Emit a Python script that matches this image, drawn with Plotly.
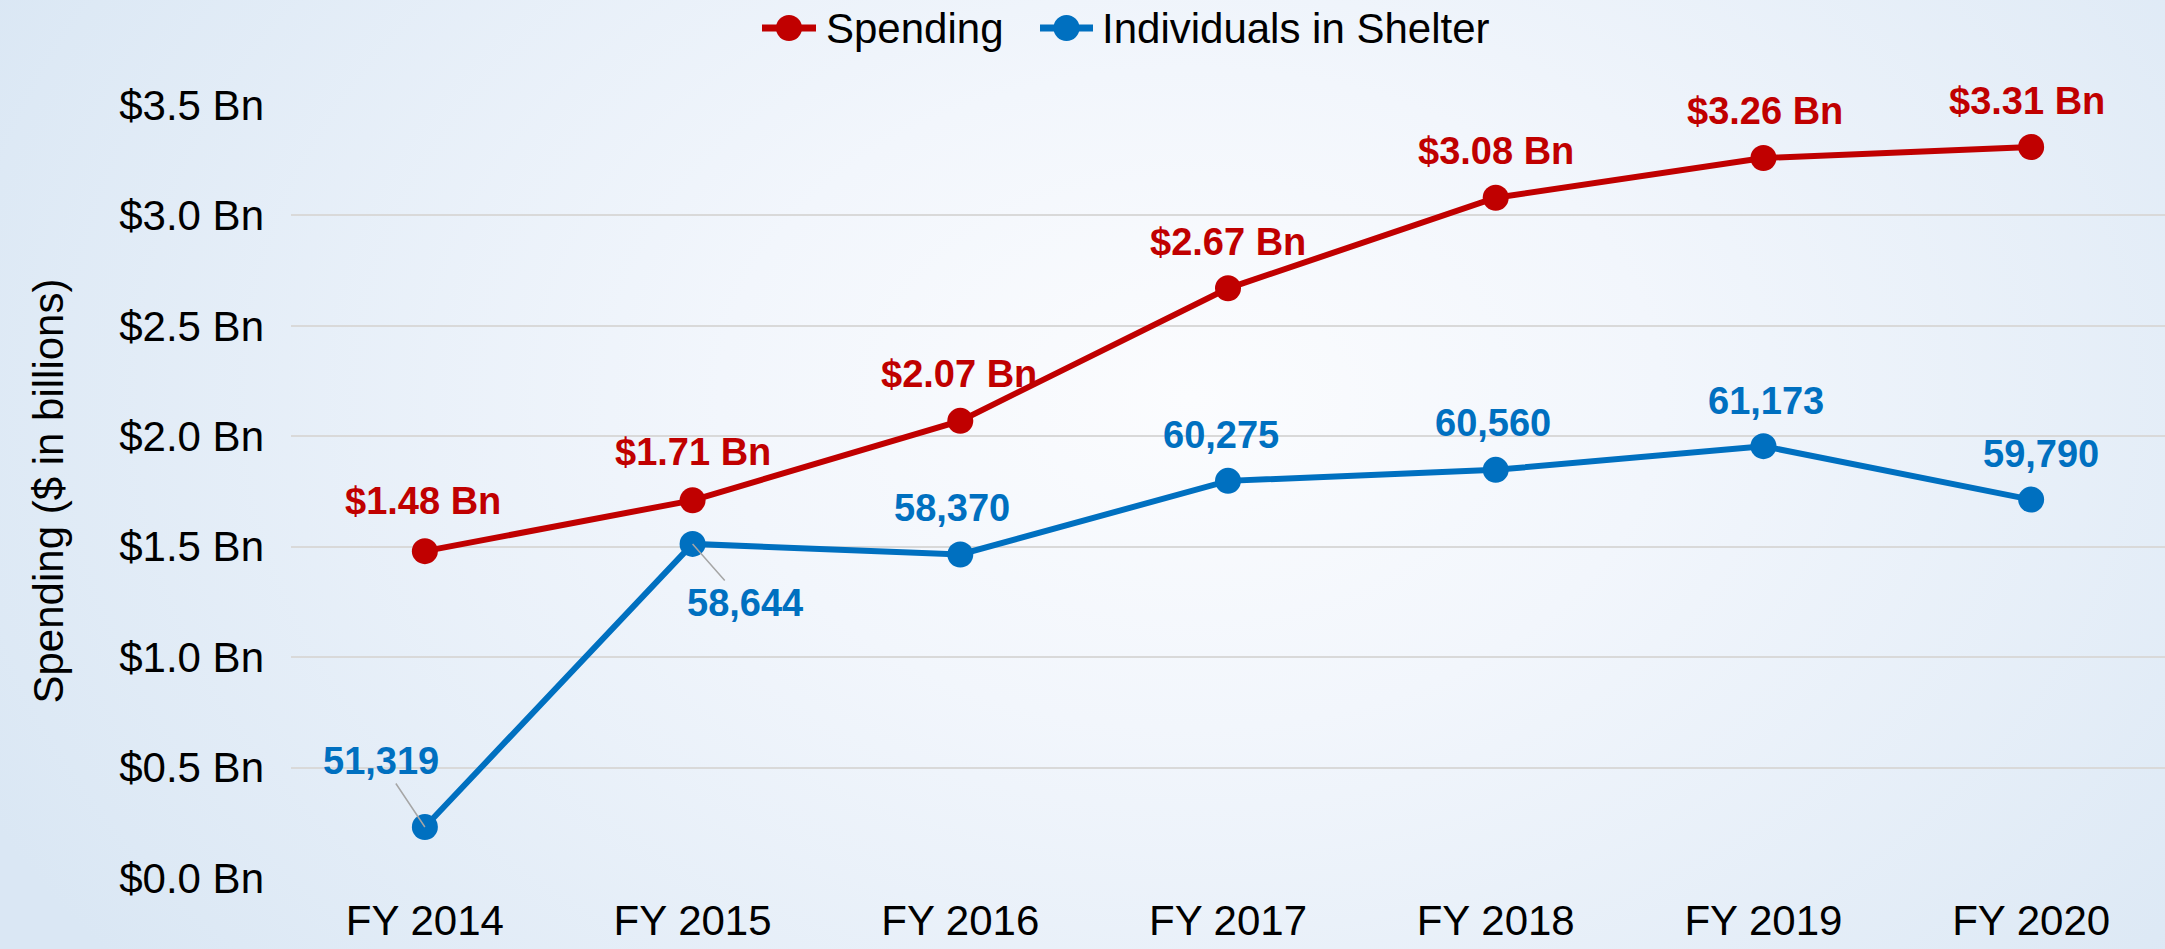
import base64
import plotly.graph_objects as go

# ---- data ----
years = ["FY 2014", "FY 2015", "FY 2016", "FY 2017", "FY 2018", "FY 2019", "FY 2020"]
spending_bn = [1.48, 1.71, 2.07, 2.67, 3.08, 3.26, 3.31]
individuals = [51319, 58644, 58370, 60275, 60560, 61173, 59790]
y_ticks = [0.0, 0.5, 1.0, 1.5, 2.0, 2.5, 3.0, 3.5]
series_names = ["Spending", "Individuals in Shelter"]

RED = "#C00000"
BLUE = "#0070C0"
FONT = "Liberation Sans, Arial, sans-serif"

W, H = 2165, 949
ML, MR, MT, MB = 291, 0, 105, 71
PW, PH = W - ML - MR, H - MT - MB


def px_x(px):
    return (px - ML) / PW


def px_y(py):
    return (H - MB - py) / PH


# label offsets in pixels (dx, dy) relative to the point; dy positive = up
spend_off = [(-2, 50), (0, 48), (-1, 47), (0, 46), (0, 47), (2, 47), (-4, 46)]
ind_off = [(-44, 66), (52, -59), (-8, 47), (-7, 46), (-3, 47), (3, 45), (10, 46)]
leader = [True, True, False, False, False, False, False]

fig = go.Figure()
fig.add_trace(go.Scatter(
    x=years, y=spending_bn, name=series_names[0], mode="lines+markers",
    line=dict(color=RED, width=6), marker=dict(color=RED, size=26),
    cliponaxis=False, yaxis="y", showlegend=False))
fig.add_trace(go.Scatter(
    x=years, y=individuals, name=series_names[1], mode="lines+markers",
    line=dict(color=BLUE, width=6), marker=dict(color=BLUE, size=26),
    cliponaxis=False, yaxis="y2", showlegend=False))

ann = []
for x, v, (dx, dy) in zip(years, spending_bn, spend_off):
    ann.append(dict(x=x, y=v, xref="x", yref="y", text=f"${v:.2f} Bn",
                    showarrow=False, xshift=dx, yshift=dy,
                    font=dict(family=FONT, size=38, color=RED, weight="bold")))
for x, v, (dx, dy), ld in zip(years, individuals, ind_off, leader):
    if ld:
        ann.append(dict(x=x, y=v, xref="x", yref="y2", text=f"{v:,}",
                        showarrow=True, arrowhead=0, arrowwidth=1.5,
                        arrowcolor="#A6A6A6", ax=dx, ay=-dy, standoff=0,
                        font=dict(family=FONT, size=38, color=BLUE, weight="bold")))
    else:
        ann.append(dict(x=x, y=v, xref="x", yref="y2", text=f"{v:,}",
                        showarrow=False, xshift=dx, yshift=dy,
                        font=dict(family=FONT, size=38, color=BLUE, weight="bold")))

# y-axis title
ann.append(dict(x=px_x(48), y=0.5, xref="paper", yref="paper",
                text="Spending ($ in billions)", textangle=-90, showarrow=False,
                xanchor="center", yanchor="middle",
                font=dict(family=FONT, size=42, color="#000000")))

# custom legend (line segment + circle + text)
shapes = []
LEG_Y = 28
legend_items = [(series_names[0], RED, 762, 816, 824), (series_names[1], BLUE, 1040, 1093, 1100)]
for name, col, x0, x1, tx in legend_items:
    shapes.append(dict(type="line", xref="paper", yref="paper",
                       x0=px_x(x0), x1=px_x(x1), y0=px_y(LEG_Y), y1=px_y(LEG_Y),
                       line=dict(color=col, width=7)))
    cx = (x0 + x1) / 2
    shapes.append(dict(type="circle", xref="paper", yref="paper",
                       x0=px_x(cx - 13), x1=px_x(cx + 13),
                       y0=px_y(LEG_Y + 13), y1=px_y(LEG_Y - 13),
                       fillcolor=col, line=dict(color=col, width=0)))
    ann.append(dict(x=px_x(tx), y=px_y(LEG_Y), xref="paper", yref="paper",
                    text=name, showarrow=False, xanchor="left", yanchor="middle",
                    font=dict(family=FONT, size=42, color="#000000")))

svg = """<svg xmlns='http://www.w3.org/2000/svg' width='2165' height='949' viewBox='0 0 2165 949' preserveAspectRatio='none'>
<defs><radialGradient id='g' cx='0.55' cy='0.42' r='0.62' gradientTransform='translate(0.55 0.42) scale(1 1.6) translate(-0.55 -0.42)'>
<stop offset='0' stop-color='#FBFCFE'/><stop offset='0.35' stop-color='#F2F6FC'/><stop offset='1' stop-color='#DAE7F4'/></radialGradient></defs>
<rect width='2165' height='949' fill='url(#g)'/></svg>"""
src = "data:image/svg+xml;base64," + base64.b64encode(svg.encode()).decode()

fig.update_layout(
    width=W, height=H,
    margin=dict(l=ML, r=MR, t=MT, b=MB, autoexpand=False),
    paper_bgcolor="#EEF3FA", plot_bgcolor="rgba(0,0,0,0)",
    font=dict(family=FONT, color="#000000"),
    images=[dict(source=src, xref="paper", yref="paper", x=-ML / PW, y=1 + MT / PH,
                 sizex=W / PW, sizey=H / PH, sizing="stretch",
                 xanchor="left", yanchor="top", layer="below")],
    xaxis=dict(type="category", range=[-0.5, 6.5], showgrid=False, zeroline=False,
               showline=False, ticks="", tickfont=dict(size=42, family=FONT),
               ticklabelstandoff=14, automargin=False, fixedrange=True),
    yaxis=dict(range=[0, 3.5], tickvals=y_ticks,
               ticktext=[f"${t:.1f} Bn" for t in y_ticks],
               tickfont=dict(size=42, family=FONT), ticklen=0, ticks="",
               ticklabelstandoff=26,
               showgrid=True, gridcolor="#D9D9D9", gridwidth=2, zeroline=False,
               showline=False, automargin=False),
    yaxis2=dict(range=[50000, 70000], overlaying="y", side="right", visible=False,
                showgrid=False, automargin=False),
    annotations=ann,
    shapes=shapes,
    showlegend=False,
)

fig.write_html("out.html", config={"displayModeBar": False},
               post_script="document.body.style.margin='0';document.body.style.padding='0';")
